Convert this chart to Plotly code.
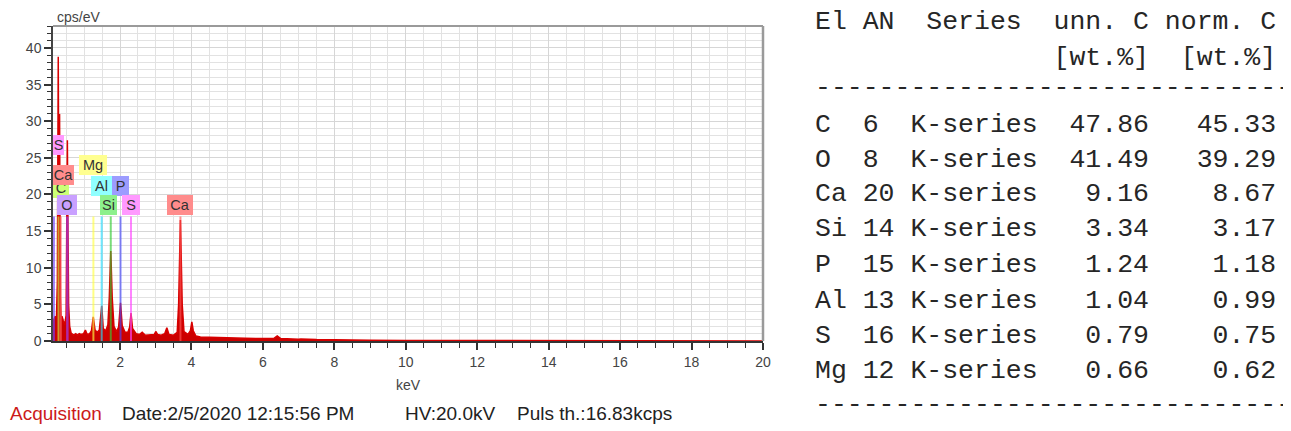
import plotly.graph_objects as go

# ---------------- data ----------------
# EDS spectrum (keV, cps/eV)
energy_kev = [0.123, 0.14, 0.18, 0.22, 0.245, 0.258, 0.27, 0.283, 0.295, 0.307, 0.317,
              0.33, 0.35, 0.38, 0.41, 0.45, 0.49, 0.51, 0.525, 0.545, 0.56, 0.59, 0.63,
              0.70, 0.76, 0.80, 0.86, 0.90, 0.98, 1.03, 1.08, 1.15, 1.20, 1.25, 1.30, 1.36,
              1.42, 1.487, 1.53, 1.60, 1.66, 1.70, 1.74, 1.78, 1.83, 1.90, 1.96,
              2.013, 2.06, 2.14, 2.22, 2.27, 2.307, 2.35, 2.45, 2.55, 2.62, 2.70,
              2.85, 2.96, 3.00, 3.05, 3.15, 3.25, 3.31, 3.37, 3.50, 3.60, 3.64,
              3.67, 3.69, 3.71, 3.74, 3.79, 3.90, 3.97, 4.01, 4.05, 4.12, 4.25,
              4.50, 5.00, 5.50, 6.00, 6.30, 6.40, 6.50, 7.00, 7.06, 7.50, 8.00,
              9.00, 10.0, 12.0, 14.0, 16.0, 18.0, 20.0]
counts_cps = [2.7, 2.9, 3.3, 3.2, 8.0, 24.0, 38.8, 22.0, 15.0, 31.0, 16.0,
              6.0, 3.2, 3.3, 2.8, 2.2, 3.5, 15.0, 27.4, 14.0, 5.0, 2.0, 1.1,
              0.8, 1.0, 0.8, 1.0, 0.9, 1.0, 1.5, 0.9, 1.0, 1.4, 3.3, 1.5, 1.2,
              1.5, 4.8, 1.7, 1.4, 2.2, 6.0, 12.3, 6.0, 2.0, 1.3, 1.9,
              5.2, 2.1, 1.2, 1.2, 1.9, 3.8, 1.7, 1.0, 0.9, 1.2, 0.8,
              0.8, 0.9, 1.3, 0.9, 0.8, 1.0, 1.8, 0.9, 0.8, 1.2, 5.0,
              12.0, 16.5, 12.0, 5.0, 1.3, 0.9, 1.4, 2.6, 1.4, 0.7, 0.55,
              0.5, 0.45, 0.38, 0.33, 0.33, 0.7, 0.33, 0.25, 0.28, 0.2, 0.15,
              0.1, 0.07, 0.04, 0.03, 0.02, 0.01, 0.01]

# element marker lines
marker_labels = ["S", "C", "Ca", "O", "Mg", "Al", "P", "Si", "S", "Ca"]
marker_energy = [0.149, 0.277, 0.341, 0.525, 1.254, 1.486, 2.013, 1.740, 2.307, 3.691]
marker_top = [17, 17, 17, 17, 17, 17, 17, 17, 17, 17]

# axis ticks
x_tickvals = [2, 4, 6, 8, 10, 12, 14, 16, 18, 20]
x_ticktext = ["2", "4", "6", "8", "10", "12", "14", "16", "18", "20"]
y_tickvals = [0, 5, 10, 15, 20, 25, 30, 35, 40]
y_ticktext = ["0", "5", "10", "15", "20", "25", "30", "35", "40"]

# quantification table
table_el = ["C", "O", "Ca", "Si", "P", "Al", "S", "Mg"]
table_an = [6, 8, 20, 14, 15, 13, 16, 12]
table_series = ["K-series", "K-series", "K-series", "K-series",
                "K-series", "K-series", "K-series", "K-series"]
table_unn = [47.86, 41.49, 9.16, 3.34, 1.24, 1.04, 0.79, 0.66]
table_norm = [45.33, 39.29, 8.67, 3.17, 1.18, 0.99, 0.75, 0.62]

# ---------------- styling / layout ----------------
OFF = 8  # page body margin of the html page
W, H = 1291 - OFF, 431 - OFF
ML, MT = 53 - OFF, 26 - OFF
MR = W - (763 - OFF)
MB = H - (341 - OFF)
PW, PH = W - ML - MR, H - MT - MB
X_RANGE = [0.123, 20]
Y_RANGE = [0, 43]

def px_x(px):
    return (px - OFF - ML) / PW

def px_y(py):
    return (H - MB - (py - OFF)) / PH

SANS = "Liberation Sans, Arial, sans-serif"
MONO = "Liberation Mono, Courier New, monospace"

marker_colors = ["#7040ff", "#c8ee44", "#ff6666", "#a040ff", "#ffff44",
                 "#22ddff", "#4848ff", "#33cc33", "#ff44ff", "#ff5555"]
label_colors = ["#ff99ff", "#ccff77", "#ff8c8c", "#c9a0ff", "#ffff90",
                "#90ffff", "#9c9cff", "#8cf08c", "#ff99ff", "#ff8c8c"]
# label placement: (x anchor in keV or None for clipped-left, y in cps, box width px)
label_place = [
    (None, 26.75, 11),
    (None, 20.9, 16),
    (None, 22.6, 21),
    (0.525, 18.5, 20),
    (1.254, 24.0, 28),
    (1.486, 21.2, 21),
    (2.013, 21.2, 17),
    (1.677, 18.5, 17),
    (2.307, 18.5, 18),
    (3.691, 18.5, 26),
]
label_order = [0, 1, 2, 3, 4, 5, 6, 7, 8, 9]

fig = go.Figure()

fig.add_trace(go.Scatter(
    x=energy_kev, y=counts_cps, mode="lines",
    line=dict(color="#d80000", width=1.5),
    fill="tozeroy", fillcolor="#cc0000",
    hoverinfo="skip", showlegend=False,
))

for i, e in enumerate(marker_energy):
    fig.add_trace(go.Scatter(
        x=[e, e], y=[0, marker_top[i]], mode="lines",
        line=dict(color=marker_colors[i], width=2.5 if marker_labels[i] == "O" else 2),
        opacity=0.65, hoverinfo="skip", showlegend=False,
    ))

annotations = []
BP = 1
for i in label_order:
    lx, ly, bw = label_place[i]
    if lx is None:
        ann = dict(x=X_RANGE[0], xanchor="left", align="center")
    else:
        ann = dict(x=lx, xanchor="center", align="center")
    ann.update(
        xref="x", yref="y", y=ly, yanchor="middle",
        text=marker_labels[i], showarrow=False,
        font=dict(family=SANS, size=14.5, color="#333333"),
        bgcolor=label_colors[i], borderpad=BP, borderwidth=0,
        width=bw - 2 * BP, height=20 - 2 * BP,
    )
    annotations.append(ann)

# axis captions
annotations.append(dict(xref="paper", yref="paper", x=px_x(55), y=px_y(17),
                        xanchor="left", yanchor="middle", text="cps/eV",
                        showarrow=False, font=dict(family=SANS, size=14, color="#444444")))
annotations.append(dict(xref="paper", yref="paper", x=px_x(408), y=px_y(385),
                        xanchor="center", yanchor="middle", text="keV",
                        showarrow=False, font=dict(family=SANS, size=14, color="#444444")))

# acquisition footer
footer = [("Acquisition", 8, "#cc1a1a"),
          ("Date:2/5/2020 12:15:56 PM", 120, "#222222"),
          ("HV:20.0kV", 403, "#222222"),
          ("Puls th.:16.83kcps", 515, "#222222")]
for txt, fx, col in footer:
    annotations.append(dict(xref="paper", yref="paper", x=px_x(fx), y=px_y(413),
                            xanchor="left", yanchor="middle", text=txt,
                            showarrow=False, font=dict(family=SANS, size=19, color=col)))

# quantification table as monospace text lines
NB = "\u00a0"
lines = []
lines.append(("El AN  Series  unn. C norm. C", 22))
lines.append((" " * 15 + "[wt.%]  [wt.%]", 58))
lines.append(("-" * 30, 88))
row_y = [125, 159.5, 194, 229.5, 265, 300.5, 335.5, 371]
for k in range(len(table_el)):
    s = f"{table_el[k]:<2} {table_an[k]:<2} {table_series[k]:<8}{table_unn[k]:>7.2f}{table_norm[k]:>8.2f}"
    lines.append((s, row_y[k]))
lines.append(("-" * 30, 405))
for txt, ty in lines:
    annotations.append(dict(xref="paper", yref="paper", x=px_x(813), y=px_y(ty),
                            xanchor="left", yanchor="middle", text=txt.replace(" ", NB),
                            showarrow=False,
                            font=dict(family=MONO, size=26.5, color="#262626")))

shapes = [
    dict(type="line", xref="paper", yref="paper", x0=0, x1=1, y0=1, y1=1,
         line=dict(color="#9a9a9a", width=2)),
    dict(type="line", xref="paper", yref="paper", x0=1, x1=1, y0=0, y1=1,
         line=dict(color="#9a9a9a", width=2.5)),
]

fig.update_layout(
    width=W, height=H,
    margin=dict(l=ML, r=MR, t=MT, b=MB, pad=0),
    paper_bgcolor="white", plot_bgcolor="white",
    showlegend=False,
    annotations=annotations, shapes=shapes,
    xaxis=dict(
        range=X_RANGE, tickmode="array", tickvals=x_tickvals, ticktext=x_ticktext,
        showgrid=True, gridcolor="#d6d6d6", gridwidth=1,
        showline=True, linecolor="#333333", linewidth=2,
        ticks="outside", ticklen=7, tickcolor="#333333", tickwidth=1.5,
        tickfont=dict(family=SANS, size=14, color="#444444"),
        minor=dict(tick0=0, dtick=0.5, showgrid=True, gridcolor="#e2e2e2",
                   ticks="outside", ticklen=5, tickcolor="#333333", tickwidth=1.2),
        zeroline=False, fixedrange=True,
    ),
    yaxis=dict(
        range=Y_RANGE, tickmode="array", tickvals=y_tickvals, ticktext=y_ticktext,
        showgrid=True, gridcolor="#d6d6d6", gridwidth=1,
        showline=True, linecolor="#444444", linewidth=1.5,
        ticks="outside", ticklen=7, tickcolor="#333333", tickwidth=1.5,
        tickfont=dict(family=SANS, size=14, color="#444444"),
        minor=dict(tick0=0, dtick=1, showgrid=True, gridcolor="#e2e2e2",
                   ticks="outside", ticklen=4, tickcolor="#333333", tickwidth=1.2),
        zeroline=False, fixedrange=True,
    ),
)

fig.write_html("out.html", config={"displayModeBar": False})
